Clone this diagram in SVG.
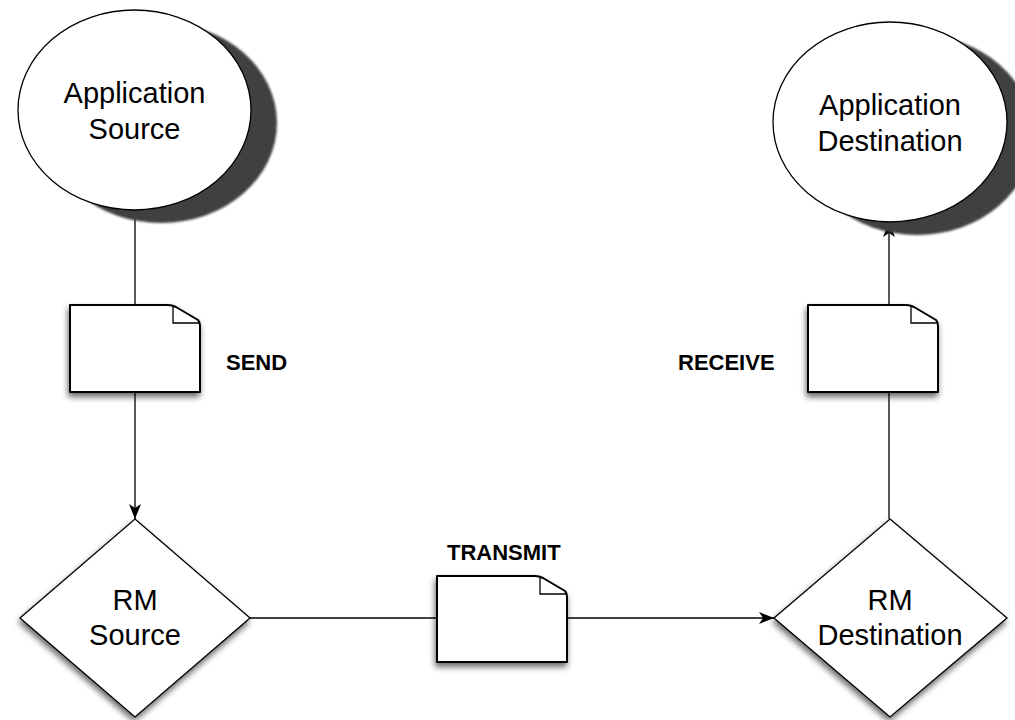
<svg xmlns="http://www.w3.org/2000/svg" width="1015" height="720" viewBox="0 0 1015 720">
  <defs>
    <filter id="soft" x="-20%" y="-20%" width="140%" height="140%">
      <feGaussianBlur in="SourceAlpha" stdDeviation="3"/>
      <feOffset dx="-1" dy="4" result="b"/>
      <feComponentTransfer><feFuncA type="linear" slope="0.6"/></feComponentTransfer>
      <feMerge><feMergeNode/><feMergeNode in="SourceGraphic"/></feMerge>
    </filter>
    <filter id="blur1" x="-10%" y="-10%" width="120%" height="120%">
      <feGaussianBlur stdDeviation="1.2"/>
    </filter>
    <marker id="arrow" viewBox="0 0 15 12" refX="15" refY="6" markerWidth="15" markerHeight="12" markerUnits="userSpaceOnUse" orient="auto">
      <path d="M0,0 L15,6 L0,12 L4,6 Z" fill="#000"/>
    </marker>
  </defs>
  <style>
    .bubble { fill: #fff; stroke: #000; stroke-width: 1.3; }
    .bubble-shadow { fill: #3f3f3f; }
    .diamond { fill: #fff; stroke: #000; stroke-width: 1.3; }
    .doc { fill: #fff; stroke: #000; stroke-width: 2; stroke-linejoin: round; }
    .fold { fill: none; stroke: #000; stroke-width: 1.3; }
    .label { font-family: "Liberation Sans", Arial, sans-serif; font-size: 29px; fill: #000; text-anchor: middle; }
    .tag { font-family: "Liberation Sans", Arial, sans-serif; font-size: 22px; font-weight: bold; fill: #000; }
    .edge { fill: none; stroke: #000; stroke-width: 1.3; }
  </style>

  <rect width="1015" height="720" fill="#fff"/>

  <!-- connectors -->
  <g id="connectors">
    <line class="edge" x1="135" y1="210" x2="135" y2="305"/>
    <line class="edge" x1="135" y1="392" x2="135" y2="519" marker-end="url(#arrow)"/>
    <line class="edge" x1="250" y1="618" x2="437" y2="618"/>
    <line class="edge" x1="567" y1="618" x2="774" y2="618" marker-end="url(#arrow)"/>
    <line class="edge" x1="889" y1="519" x2="889" y2="392"/>
    <line class="edge" x1="889" y1="305" x2="889" y2="222" marker-end="url(#arrow)"/>
  </g>

  <!-- application source -->
  <g id="app-source">
    <ellipse class="bubble-shadow" cx="161" cy="123" rx="116" ry="100" filter="url(#blur1)"/>
    <ellipse class="bubble" cx="134.5" cy="110" rx="116.5" ry="100"/>
    <text class="label" x="134.5" y="103">Application</text>
    <text class="label" x="134.5" y="139">Source</text>
  </g>

  <!-- application destination -->
  <g id="app-destination">
    <ellipse class="bubble-shadow" cx="917" cy="135" rx="116" ry="100" filter="url(#blur1)"/>
    <ellipse class="bubble" cx="890" cy="122" rx="117" ry="100"/>
    <text class="label" x="890" y="115">Application</text>
    <text class="label" x="890" y="151">Destination</text>
  </g>

  <!-- send message -->
  <g id="send">
    <path class="doc" d="M70,305 H168 Q172,305 176,307 L198,320 Q200,322 200,326 V392 H70 Z" filter="url(#soft)"/>
    <path class="fold" d="M173,306 V323 H199"/>
    <text class="tag" x="226" y="370">SEND</text>
  </g>

  <!-- receive message -->
  <g id="receive">
    <path class="doc" d="M808,305 H906 Q910,305 914,307 L936,320 Q938,322 938,326 V392 H808 Z" filter="url(#soft)"/>
    <path class="fold" d="M911,306 V323 H937"/>
    <text class="tag" x="678" y="370">RECEIVE</text>
  </g>

  <!-- transmit message -->
  <g id="transmit">
    <path class="doc" d="M437,576 H535 Q539,576 543,578 L565,591 Q567,593 567,597 V662 H437 Z" filter="url(#soft)"/>
    <path class="fold" d="M540,577 V594 H566"/>
    <text class="tag" x="447" y="560">TRANSMIT</text>
  </g>

  <!-- rm source -->
  <g id="rm-source">
    <polygon class="diamond" points="135,519 250,618 135,717 20,618" filter="url(#soft)"/>
    <text class="label" x="135" y="610">RM</text>
    <text class="label" x="135" y="645">Source</text>
  </g>

  <!-- rm destination -->
  <g id="rm-destination">
    <polygon class="diamond" points="890,519 1007,618 890,717 774,618" filter="url(#soft)"/>
    <text class="label" x="890" y="610">RM</text>
    <text class="label" x="890" y="645">Destination</text>
  </g>
</svg>
